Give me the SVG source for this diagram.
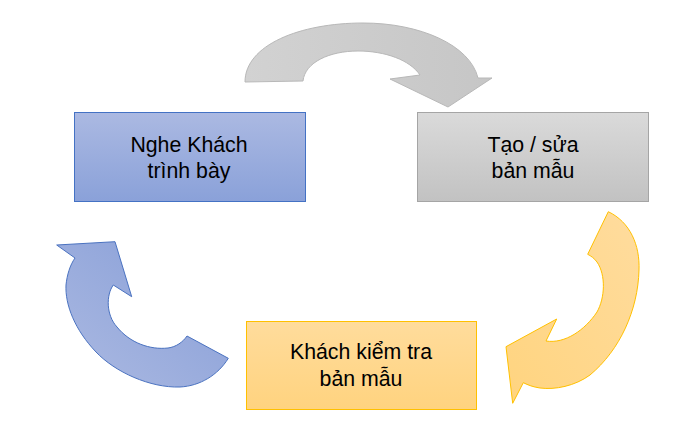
<svg xmlns="http://www.w3.org/2000/svg" width="679" height="440" viewBox="0 0 679 440">
<defs>
<linearGradient id="gBlue" x1="0" y1="0" x2="0" y2="1"><stop offset="0" stop-color="#abb9e2"/><stop offset="1" stop-color="#8aa1d9"/></linearGradient>
<linearGradient id="gGray" x1="0" y1="0" x2="0" y2="1"><stop offset="0" stop-color="#dadada"/><stop offset="1" stop-color="#c2c2c2"/></linearGradient>
<linearGradient id="gOrange" x1="0" y1="0" x2="0" y2="1"><stop offset="0" stop-color="#ffdc9c"/><stop offset="1" stop-color="#ffd37f"/></linearGradient>
<linearGradient id="aBlue" x1="0" y1="1" x2="1" y2="0"><stop offset="0" stop-color="#acbae2"/><stop offset="1" stop-color="#869dd7"/></linearGradient>
<linearGradient id="aGray" x1="0" y1="0" x2="1" y2="0"><stop offset="0" stop-color="#d2d2d2"/><stop offset="1" stop-color="#c6c6c6"/></linearGradient>
<linearGradient id="aOrange" x1="0" y1="1" x2="1" y2="0"><stop offset="0" stop-color="#ffd47f"/><stop offset="1" stop-color="#ffdc9e"/></linearGradient>
</defs>
<style>
.box{stroke-width:1}
.t{font-family:"Liberation Sans",Arial,sans-serif;font-size:21.3px;fill:#000;text-anchor:middle}
</style>
<rect width="679" height="440" fill="#fff"/>
<g id="connectors">
<path id="arrow-top" d="M245,82 C245,45 300,23 363,23 C420,23 470,45 478,78 L492,78 L448,107 L390,79 L420,75 C410,60 385,51 358,51 C330,51 305,62 303,81 Z" fill="url(#aGray)" stroke="#b8b8b8" stroke-width="1"/>
<path id="arrow-right" d="M608.3,211.7 C630,222 640,245 639,270 C638,310 620,350 590,375 C575,386 555,390 540,388 C533,387 528,385 523.3,382.7 L512.7,403.3 L506,346.7 L556.7,319 L546,341 C565,344 585,330 597,312 C605,298 606,275 597,262 C594,258 591,256 587.7,254.3 Z" fill="url(#aOrange)" stroke="#ffc000" stroke-width="1"/>
<path id="arrow-left" d="M115,241.7 L131.7,296.7 L113.3,285 C106,295 106,315 117,327 C130,343 150,350 168,348 C176,347 183,342 187,336 L228.3,358.3 C218,375 200,386 180,387 C150,388 115,372 96,352 C75,330 65,305 66,285 C67,275 70,265 75,258 L56.7,245 Z" fill="url(#aBlue)" stroke="#4a72c0" stroke-width="1"/>
</g>
<g id="node-listen">
<rect class="box" x="74.5" y="112.5" width="231" height="89" fill="url(#gBlue)" stroke="#4472c4"/>
<text class="t" x="189" y="152">Nghe Khách</text>
<text class="t" x="189" y="178">trình bày</text>
</g>
<g id="node-create">
<rect class="box" x="417.5" y="112.5" width="231" height="89" fill="url(#gGray)" stroke="#a5a5a5"/>
<text class="t" x="533" y="152">Tạo / sửa</text>
<text class="t" x="533" y="178">bản mẫu</text>
</g>
<g id="node-check">
<rect class="box" x="246.5" y="321.5" width="230" height="88" fill="url(#gOrange)" stroke="#ffc000"/>
<text class="t" x="361" y="359">Khách kiểm tra</text>
<text class="t" x="361" y="386">bản mẫu</text>
</g>
</svg>
